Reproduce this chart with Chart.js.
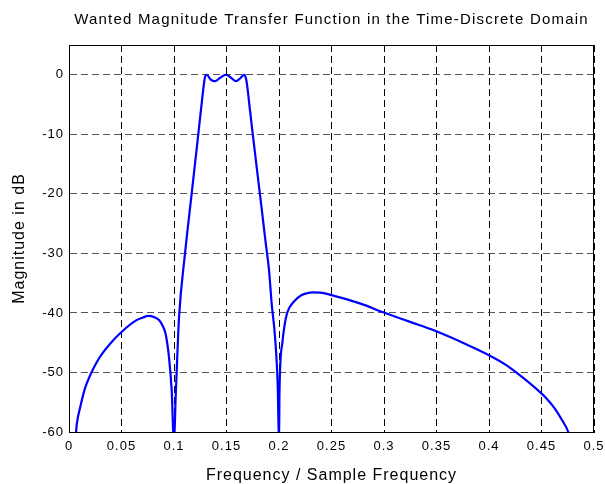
<!DOCTYPE html>
<html>
<head>
<meta charset="utf-8">
<title>Wanted Magnitude Transfer Function</title>
<script src="https://cdn.jsdelivr.net/npm/chart.js@4.4.1/dist/chart.umd.min.js"></script>
<style>
  html,body{margin:0;padding:0;background:#fff;}
  #wrap{width:605px;height:484px;}
</style>
</head>
<body>
<div id="wrap"><canvas id="chart" width="605" height="484"></canvas></div>
<script>
// values
const freq = [0.0062, 0.0075, 0.011, 0.015, 0.0206, 0.026, 0.0318, 0.04, 0.05, 0.0635, 0.07, 0.0756, 0.081, 0.0857, 0.089, 0.092, 0.0952, 0.0978, 0.1,
  0.1016, 0.1031, 0.1048, 0.1105, 0.1168, 0.1232, 0.1263, 0.1295, 0.1311, 0.135, 0.139, 0.144, 0.1495, 0.155, 0.159, 0.163, 0.167, 0.169,
  0.1724, 0.1765, 0.1835, 0.1875, 0.1905, 0.193, 0.1962, 0.1988, 0.2,
  0.2005, 0.2032, 0.2052, 0.2073, 0.21, 0.2136, 0.2216, 0.2295, 0.2327, 0.239, 0.25, 0.277, 0.2994, 0.3248, 0.3486, 0.3787, 0.4, 0.4168, 0.4311,
  0.4486, 0.455, 0.4629, 0.4692, 0.4755, 0.477];
const magDb = [-61, -58.6, -55.6, -52.8, -50.3, -48.4, -46.8, -45, -43.2, -41.3, -40.8, -40.5, -40.7, -41.2, -42.1, -43.5, -47.4, -53, -62,
  -54.1, -47.4, -40.7, -30, -20, -9.9, -4.9, -0.4, 0, -0.8, -1.07, -0.5, 0, -0.6, -1.07, -0.6, 0, -1,
  -6, -12.2, -22.5, -28.5, -32.8, -38.4, -44, -52.4, -62,
  -53, -45, -42.2, -40.3, -39.1, -38.2, -37, -36.6, -36.55, -36.6, -37, -38.4, -39.9, -41.5, -43, -45.3, -47.1, -48.8, -50.7,
  -53.3, -54.4, -56.1, -57.9, -60, -61];

const xTicks = [0, 0.05, 0.1, 0.15, 0.2, 0.25, 0.3, 0.35, 0.4, 0.45, 0.5];
const xTickLabels = ['0', '0.05', '0.1', '0.15', '0.2', '0.25', '0.3', '0.35', '0.4', '0.45', '0.5'];
const yTicks = [-60, -50, -40, -30, -20, -10, 0];
const yTickLabels = ['-60', '-50', '-40', '-30', '-20', '-10', '0'];

const titleText = 'Wanted Magnitude Transfer Function in the Time-Discrete Domain';
const FONT = "'Liberation Sans', Arial, Helvetica, sans-serif";

// matlab-ish text spacing, title over the axes and the box round them
const spacing = {
  id: 'spacing',
  beforeInit(c){ c.ctx.letterSpacing = '1px'; },
  beforeUpdate(c){ c.ctx.letterSpacing = '1px'; },
  beforeDraw(c){ c.ctx.letterSpacing = '1px'; }
};
const axesTitle = {
  id: 'axesTitle',
  afterDraw(c){
    const a = c.chartArea, ctx = c.ctx;
    ctx.save();
    ctx.letterSpacing = '1.2px';
    ctx.font = '15px ' + FONT;
    ctx.fillStyle = '#000';
    ctx.textAlign = 'center';
    ctx.textBaseline = 'middle';
    ctx.fillText(titleText, (a.left + a.right) / 2, 20);
    ctx.restore();
  }
};
const box = {
  id: 'box',
  afterDraw(c){
    const a = c.chartArea, ctx = c.ctx;
    ctx.save();
    ctx.strokeStyle = '#000'; ctx.lineWidth = 1;
    ctx.strokeRect(Math.round(a.left) + 0.5, Math.round(a.top) + 0.5, Math.round(a.right - a.left) - 1, Math.round(a.bottom - a.top));
    ctx.restore();
  }
};

new Chart(document.getElementById('chart'), {
  type: 'line',
  data: {
    datasets: [{
      data: freq.map((f, i) => ({x: f, y: magDb[i]})),
      borderColor: '#0000ff',
      borderWidth: 2.2,
      pointRadius: 0,
      cubicInterpolationMode: 'monotone',
      fill: false
    }]
  },
  options: {
    responsive: false,
    animation: false,
    layout: { padding: { left: 0, right: 11, top: 45, bottom: 0 } },
    plugins: {
      legend: { display: false },
      tooltip: { enabled: false },
      title: { display: false }
    },
    scales: {
      x: {
        type: 'linear', min: 0, max: 0.5,
        afterBuildTicks: s => { s.ticks = xTicks.map(v => ({value: v})); },
        afterFit: s => { s.height = 52; s.paddingLeft = 0; s.paddingRight = 0; },
        ticks: {
          color: '#000', padding: 7, maxRotation: 0, autoSkip: false,
          font: { family: FONT, size: 13 },
          callback: (v, i) => xTickLabels[i]
        },
        grid: { color: '#000', lineWidth: 1, drawTicks: false },
        border: { display: true, color: '#000', dash: [7, 4] },
        title: {
          display: true, text: 'Frequency / Sample Frequency', color: '#000',
          font: { family: FONT, size: 16, lineHeight: 1 },
          padding: { top: 0, bottom: 0 }
        }
      },
      y: {
        type: 'linear', min: -60, max: 5,
        afterBuildTicks: s => { s.ticks = yTicks.map(v => ({value: v})); },
        afterFit: s => { s.width = 69; s.paddingTop = 0; s.paddingBottom = 0; },
        ticks: {
          color: '#000', padding: 5,
          font: { family: FONT, size: 13 },
          callback: (v, i) => yTickLabels[i]
        },
        grid: { color: '#555', lineWidth: 1, drawTicks: false },
        border: { display: true, color: '#000', dash: [7, 4] },
        title: {
          display: true, text: 'Magnitude in dB', color: '#000',
          font: { family: FONT, size: 16, lineHeight: 1 },
          padding: { top: 12, bottom: 0 }
        }
      }
    }
  },
  plugins: [spacing, axesTitle, box]
});
</script>
</body>
</html>
